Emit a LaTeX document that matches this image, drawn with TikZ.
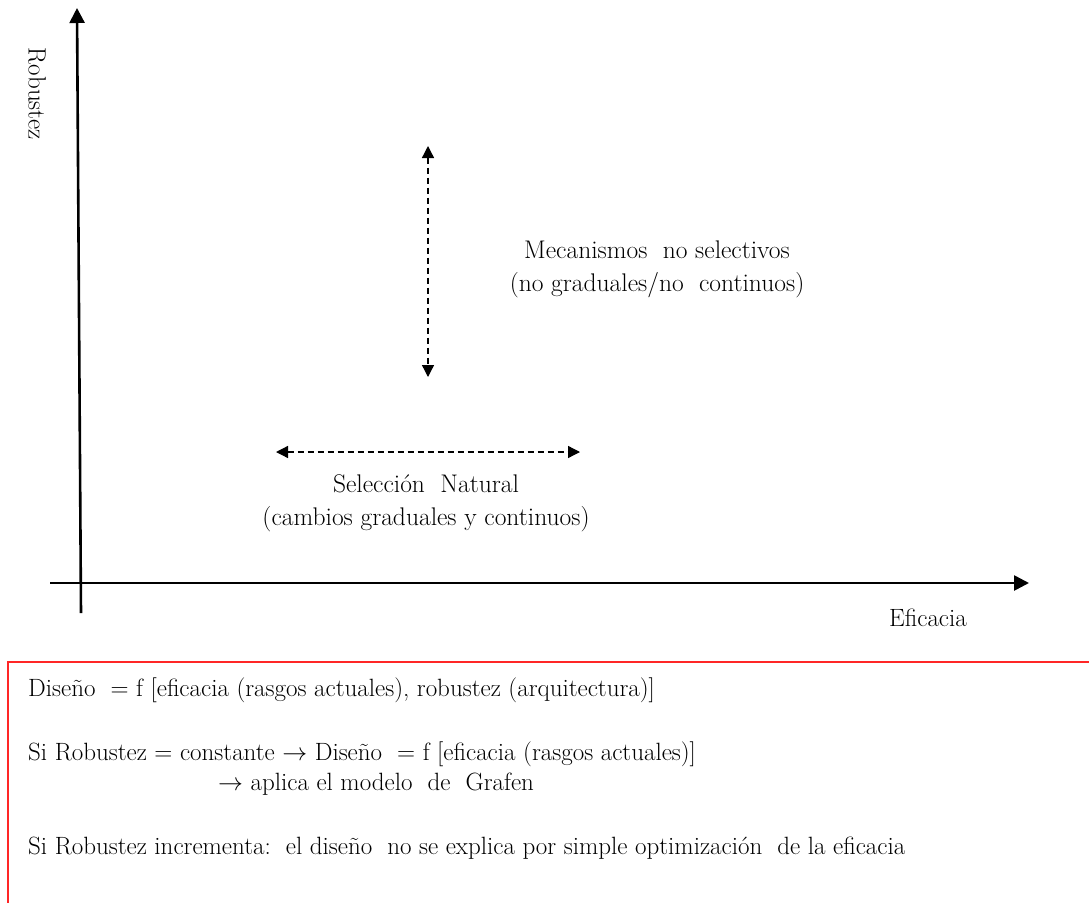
\documentclass[tikz,border=0pt]{standalone}
\usepackage{fontspec}
\usetikzlibrary{arrows.meta}
\begin{document}
\begin{tikzpicture}[x=1pt,y=-1pt,
  axis/.style={line width=2.6pt,-{Triangle[length=15pt,width=15pt]}},
  dasharrow/.style={line width=1.3pt,dash pattern=on 6pt off 4pt,{Triangle[length=12pt,width=12pt]}-{Triangle[length=12pt,width=12pt]}},
  lbl/.style={font=\fontsize{25.5}{33}\selectfont,align=center,inner sep=0pt},
  boxtxt/.style={font=\fontsize{25}{28}\selectfont,anchor=west,inner sep=0pt},
  redbox/.style={draw=red!85!white,line width=2pt}]
\useasboundingbox (0,0) rectangle (1089,902);
\fill[white] (0,0) rectangle (1089,902);
% axes
\coordinate (yb) at (81,613);
\coordinate (yt) at (77,8);
\coordinate (xl) at (50,583);
\coordinate (xr) at (1029,583);
\draw[axis] (yb) -- (yt);
\draw[axis] (xl) -- (xr);
\node[font=\fontsize{25}{26}\selectfont,rotate=-90,inner sep=0pt] (rob) at (37,94) {Robustez};
\node[font=\fontsize{25}{26}\selectfont,inner sep=0pt] (efi) at (928,618) {Eficacia};
% vertical dashed arrow
\coordinate (vt) at (428,146);
\coordinate (vb) at (428,377);
\draw[dasharrow] (vt) -- (vb);
\node[lbl] (mec) at (657,269) {Mecanismos\ \ no selectivos\\(no graduales/no\ \ continuos)};
% horizontal dashed arrow
\coordinate (hl) at (276,452);
\coordinate (hr) at (580,452);
\draw[dasharrow] (hl) -- (hr);
\node[lbl] (sel) at (426,503) {Selección\ \ Natural\\(cambios graduales y continuos)};
% red box
\begin{scope}
\clip (0,0) rectangle (1089,902);
\draw[redbox] (1100,662) -- (8,662) -- (8,910);
\end{scope}
\node[boxtxt] (t1) at (28,690) {Diseño\ \ = f [eficacia (rasgos actuales), robustez (arquitectura)]};
\node[boxtxt] (t2) at (28,754) {Si Robustez = constante $\rightarrow$ Diseño\ \ = f [eficacia (rasgos actuales)]};
\node[boxtxt] (t3) at (218,784) {$\rightarrow$ aplica el modelo\ \ de\ \ Grafen};
\node[boxtxt] (t4) at (28,848) {Si Robustez incrementa:\ \ el diseño\ \ no se explica por simple optimización\ \ de la eficacia};
\end{tikzpicture}
\end{document}
